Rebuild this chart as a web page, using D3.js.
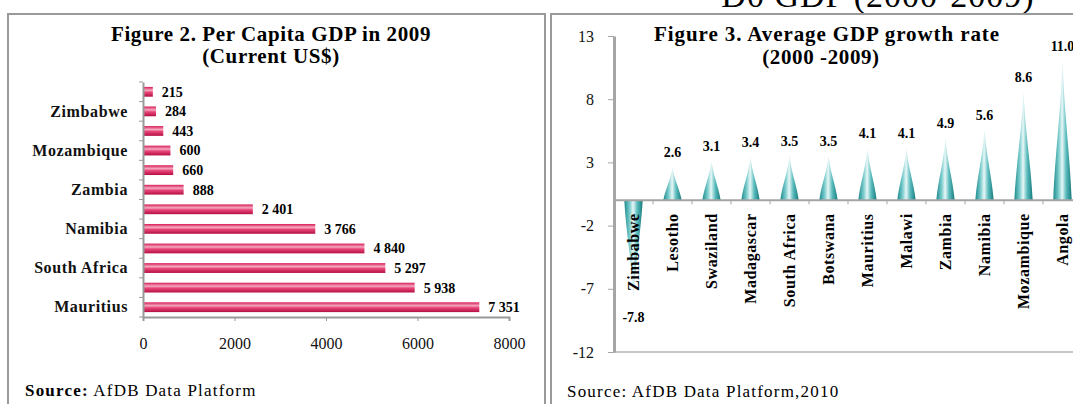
<!DOCTYPE html>
<html>
<head>
<meta charset="utf-8">
<script src="https://cdn.jsdelivr.net/npm/d3@7"></script>
<style>
  body { margin: 0; background: #fff; }
  svg { display: block; font-family: "Liberation Serif", "DejaVu Serif", serif; }
</style>
</head>
<body>
<div id="chart"></div>
<script>
// Figure 2 data (top to bottom); only every other name is shown on the axis
var gdpCountries = ["Malawi", "Zimbabwe", "Madagascar", "Mozambique", "Lesotho", "Zambia",
                    "Swaziland", "Namibia", "Angola", "South Africa", "Botswana", "Mauritius"];
var gdpValues = [215, 284, 443, 600, 660, 888, 2401, 3766, 4840, 5297, 5938, 7351];
var gdpTicks = [0, 2000, 4000, 6000, 8000];

// Figure 3 data
var growthCountries = ["Zimbabwe", "Lesotho", "Swaziland", "Madagascar", "South Africa", "Botswana",
                       "Mauritius", "Malawi", "Zambia", "Namibia", "Mozambique", "Angola"];
var growthValues = [-7.8, 2.6, 3.1, 3.4, 3.5, 3.5, 4.1, 4.1, 4.9, 5.6, 8.6, 11.0];
var growthTicks = [13, 8, 3, -2, -7, -12];

var W = 1073, H = 404;
var serif = "Liberation Serif, serif";
// plain hyphen for negatives, like the scan
var hyph = function(f) { return function(d) { return f(d).replace("\u2212", "-"); }; };

var svg = d3.select("#chart").append("svg")
    .attr("width", W)
    .attr("height", H);

svg.append("rect").attr("width", W).attr("height", H).attr("fill", "#fff");

// gradients for the bars and cones
var defs = svg.append("defs");
var pink = defs.append("linearGradient").attr("id", "pink")
    .attr("x1", 0).attr("y1", 0).attr("x2", 0).attr("y2", 1);
[["0%", "#d81a55"], ["35%", "#f4a9c0"], ["55%", "#e8467a"], ["100%", "#b50f43"]]
  .forEach(function(s) { pink.append("stop").attr("offset", s[0]).attr("stop-color", s[1]); });

var teal = defs.append("linearGradient").attr("id", "teal")
    .attr("x1", 0).attr("y1", 0).attr("x2", 1).attr("y2", 0);
[["0%", "#1c8a8c"], ["30%", "#7fcfd0"], ["48%", "#e9f7f7"], ["70%", "#5bbcbd"], ["100%", "#167a7c"]]
  .forEach(function(s) { teal.append("stop").attr("offset", s[0]).attr("stop-color", s[1]); });

// cut-off heading above the right panel
svg.append("text")
    .attr("x", 878).attr("y", 7)
    .attr("text-anchor", "middle")
    .attr("font-size", 34).attr("letter-spacing", 1)
    .text("D0 GDP (2000-2009)");

// panel frames
svg.append("rect")
    .attr("x", 8).attr("y", 14).attr("width", 537).attr("height", 420)
    .attr("fill", "none").attr("stroke", "#9a9a9a").attr("stroke-width", 2);
svg.append("rect")
    .attr("x", 551).attr("y", 14).attr("width", 560).attr("height", 420)
    .attr("fill", "none").attr("stroke", "#9a9a9a").attr("stroke-width", 2);

// ---------------- Figure 2 ----------------
var g2 = svg.append("g");

g2.append("text").attr("x", 271).attr("y", 41).attr("text-anchor", "middle")
    .attr("font-size", 21).attr("font-weight", "bold").attr("letter-spacing", 0.6)
    .text("Figure 2. Per Capita GDP in 2009");
g2.append("text").attr("x", 271).attr("y", 63).attr("text-anchor", "middle")
    .attr("font-size", 21).attr("font-weight", "bold").attr("letter-spacing", 0.6)
    .text("(Current US$)");

var x2 = d3.scaleLinear().domain([0, 8000]).range([143, 509]);
var y2 = d3.scaleBand().domain(gdpCountries).range([82, 317])
    .paddingInner(0.5).paddingOuter(0.25);

var spaceFmt = d3.formatLocale({decimal: ".", thousands: " ", grouping: [3], currency: ["", ""]}).format(",");

// bars
g2.selectAll(".bar")
    .data(gdpValues)
  .enter().append("rect")
    .attr("class", "bar")
    .attr("x", x2(0))
    .attr("y", function(d, i) { return y2(gdpCountries[i]); })
    .attr("width", function(d) { return x2(d) - x2(0); })
    .attr("height", y2.bandwidth())
    .attr("fill", "url(#pink)");

// value labels
g2.selectAll(".val")
    .data(gdpValues)
  .enter().append("text")
    .attr("class", "val")
    .attr("x", function(d) { return x2(d) + 9; })
    .attr("y", function(d, i) { return y2(gdpCountries[i]) + y2.bandwidth() / 2; })
    .attr("dy", "0.35em")
    .attr("font-size", 14).attr("font-weight", "bold")
    .text(function(d) { return spaceFmt(d); });

// x axis
var xAxis2 = g2.append("g")
    .attr("transform", "translate(0,317)")
    .call(d3.axisBottom(x2).tickValues(gdpTicks).tickSize(4).tickPadding(17).tickFormat(d3.format("d")));
xAxis2.select(".domain").attr("stroke", "#999").attr("stroke-width", 2);
xAxis2.selectAll(".tick line").attr("stroke", "#999");
xAxis2.selectAll("text").attr("font-size", 16).attr("font-family", serif).attr("fill", "#111");

// y axis, labels on every other category
var yAxis2 = g2.append("g")
    .attr("transform", "translate(143,0)")
    .call(d3.axisLeft(y2).tickSize(0).tickPadding(15)
      .tickFormat(function(d, i) { return i % 2 === 1 ? d : ""; }));
yAxis2.select(".domain").attr("stroke", "#999").attr("stroke-width", 2);
yAxis2.selectAll("text").attr("font-size", 16).attr("font-weight", "bold").attr("letter-spacing", 0.6)
    .attr("font-family", serif).attr("fill", "#111");

// band boundary ticks
var bounds2 = gdpCountries.map(function(c) { return y2(c) - y2.step() * y2.paddingOuter(); }).concat([317]);
g2.selectAll(".ytick")
    .data(bounds2)
  .enter().append("line")
    .attr("x1", 139).attr("x2", 143)
    .attr("y1", function(d) { return d; }).attr("y2", function(d) { return d; })
    .attr("stroke", "#999");

g2.append("text").attr("x", 25).attr("y", 396).attr("font-size", 17).attr("letter-spacing", 1.2)
    .call(function(t) {
      t.append("tspan").attr("font-weight", "bold").text("Source:");
      t.append("tspan").text(" AfDB Data Platform");
    });

// ---------------- Figure 3 ----------------
var g3 = svg.append("g");

g3.append("text").attr("x", 827).attr("y", 41).attr("text-anchor", "middle")
    .attr("font-size", 21).attr("font-weight", "bold").attr("letter-spacing", 0.9)
    .text("Figure 3. Average GDP growth rate");
g3.append("text").attr("x", 821).attr("y", 64).attr("text-anchor", "middle")
    .attr("font-size", 21).attr("font-weight", "bold").attr("letter-spacing", 0.6)
    .text("(2000 -2009)");

var x3 = d3.scaleBand().domain(growthCountries).range([614, 1082])
    .paddingInner(0.58).paddingOuter(0.29);
var y3 = d3.scaleLinear().domain([-12, 13]).range([352, 36]);

// bottom frame line of plot area
g3.append("line")
    .attr("x1", 614).attr("x2", W).attr("y1", y3(-12)).attr("y2", y3(-12))
    .attr("stroke", "#b5b5b5").attr("stroke-width", 1.5);

// y axis
var yAxis3 = g3.append("g")
    .attr("transform", "translate(614,0)")
    .call(d3.axisLeft(y3).tickValues(growthTicks).tickSize(6).tickPadding(14).tickSizeOuter(0)
      .tickFormat(hyph(d3.format("d"))));
yAxis3.select(".domain").attr("stroke", "#a5a5a5").attr("stroke-width", 3);
yAxis3.selectAll(".tick line").attr("stroke", "#a5a5a5");
yAxis3.selectAll("text").attr("font-size", 16).attr("font-family", serif).attr("fill", "#111");

// cones
var y0 = y3(0);
function cone(d, i) {
  var cx = x3(growthCountries[i]) + x3.bandwidth() / 2;
  var hw = x3.bandwidth() / 2 + 1;
  var yv = y3(d), h = yv - y0;
  return "M" + (cx - hw) + "," + y0 +
    "C" + (cx - hw + 2) + "," + (y0 + h * 0.35) + " " + (cx - 2) + "," + (y0 + h * 0.6) + " " + cx + "," + yv +
    "C" + (cx + 2) + "," + (y0 + h * 0.6) + " " + (cx + hw - 2) + "," + (y0 + h * 0.35) + " " + (cx + hw) + "," + y0 +
    "Z";
}
g3.selectAll(".cone")
    .data(growthValues)
  .enter().append("path")
    .attr("class", "cone")
    .attr("d", cone)
    .attr("fill", "url(#teal)");

// zero line with category ticks
g3.append("line")
    .attr("x1", 614).attr("x2", W).attr("y1", y0).attr("y2", y0)
    .attr("stroke", "#a5a5a5").attr("stroke-width", 2);
var bounds3 = growthCountries.map(function(c) { return x3(c) - x3.step() * x3.paddingOuter(); });
g3.selectAll(".xtick")
    .data(bounds3)
  .enter().append("line")
    .attr("x1", function(d) { return d; }).attr("x2", function(d) { return d; })
    .attr("y1", y0).attr("y2", y0 + 4)
    .attr("stroke", "#a5a5a5");

// category labels, rotated
g3.selectAll(".cat")
    .data(growthCountries)
  .enter().append("text")
    .attr("class", "cat")
    .attr("transform", function(d) {
      return "translate(" + (x3(d) + x3.bandwidth() / 2) + "," + (y0 + 13) + ") rotate(-90)";
    })
    .attr("text-anchor", "end")
    .attr("dy", "0.35em")
    .attr("font-size", 16).attr("font-weight", "bold").attr("letter-spacing", 0.6)
    .text(function(d) { return d; });

// value labels
g3.selectAll(".gval")
    .data(growthValues)
  .enter().append("text")
    .attr("class", "gval")
    .attr("x", function(d, i) { return x3(growthCountries[i]) + x3.bandwidth() / 2; })
    .attr("y", function(d) { return d < 0 ? y3(d) + 23 : y3(d) - 10; })
    .attr("text-anchor", "middle")
    .attr("font-size", 14).attr("font-weight", "bold")
    .text(hyph(d3.format(".1f")));

g3.append("text").attr("x", 567).attr("y", 397).attr("font-size", 17).attr("letter-spacing", 1.2)
    .text("Source: AfDB Data Platform,2010");
</script>
</body>
</html>
